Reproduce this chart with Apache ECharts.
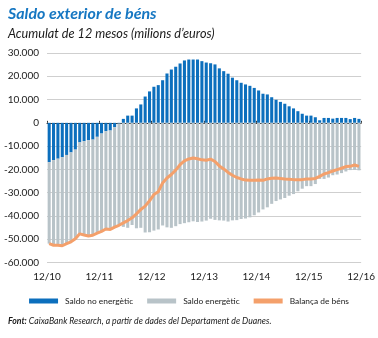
<!DOCTYPE html>
<html>
<head>
<meta charset="utf-8">
<script src="https://cdn.jsdelivr.net/npm/echarts@6/dist/echarts.min.js"></script>
<style>
  html, body { margin: 0; padding: 0; background: #ffffff; }
  #chart { width: 378px; height: 338px; }
</style>
</head>
<body>
<div id="chart"></div>
<script>
// Months Jan 2011 – Dec 2016
const months = [];
for (let y = 11; y <= 16; y++) {
  for (let m = 1; m <= 12; m++) months.push((m < 10 ? '0' + m : '' + m) + '/' + y);
}

// Year-end tick labels
const tickLabels = ['12/10', '12/11', '12/12', '12/13', '12/14', '12/15', '12/16'];

// Non-energy balance, 12-month cumulative (millions of euros)
const nonEnergy = [
  -16900, -16000, -15400, -14800, -13800, -12700, -11500, -8400, -7900, -7500, -7200, -6000,
  -4600, -3600, -3300, -1900, -300, 1700, 3100, 3100, 6200, 7900, 11300, 13500,
  15500, 16200, 18300, 21200, 22900, 24100, 25500, 26800, 27200, 27200, 27200, 26500,
  25900, 25600, 25100, 23400, 22200, 21100, 19400, 18300, 17200, 16500, 15900, 15000,
  13900, 12500, 12200, 11000, 9900, 9000, 8200, 7100, 6200, 5000, 3900, 3100,
  3100, 2400, 1100, 2100, 2100, 1800, 2100, 2100, 2100, 1600, 2100, 1700
];

// Energy balance, 12-month cumulative (millions of euros)
const energy = [
  -35000, -36600, -37200, -38000, -38100, -38400, -38300, -39300, -40300, -41100, -41100, -41400,
  -42000, -42000, -42500, -42900, -43700, -44700, -45100, -43900, -45300, -45100, -47100, -47000,
  -46300, -45800, -44100, -44900, -45100, -44400, -43500, -43100, -42700, -42300, -42600, -42400,
  -42000, -41200, -41700, -41900, -42000, -42400, -41900, -41800, -41300, -41100, -40600, -39700,
  -38500, -37200, -36300, -34800, -33600, -32900, -32300, -31300, -30600, -29400, -28300, -27200,
  -27200, -26300, -24100, -24100, -23500, -22500, -22200, -21600, -20900, -20300, -20200, -20400
];

// Goods trade balance, 12-month cumulative (millions of euros)
const balance = [
  -51900, -52600, -52600, -52800, -51900, -51100, -49800, -47700, -48200, -48600, -48300, -47400,
  -46600, -45600, -45800, -44800, -44000, -43000, -42000, -40800, -39100, -37200, -35800, -33500,
  -30800, -29600, -25800, -23700, -22200, -20300, -18000, -16300, -15500, -15100, -15400, -15900,
  -16100, -15600, -16600, -18500, -19800, -21300, -22500, -23500, -24100, -24600, -24700, -24700,
  -24600, -24700, -24100, -23800, -23700, -23900, -24100, -24200, -24400, -24400, -24400, -24100,
  -24100, -23900, -23000, -22000, -21400, -20700, -20100, -19500, -18800, -18700, -18100, -18700
];

const FONT = 'Lato, "Open Sans", sans-serif';
const BLUE = '#0c6fbd';
const GREY = '#b8c3c8';
const ORANGE = '#f4a06b';

const chart = echarts.init(document.getElementById('chart'), null, { renderer: 'canvas' });

chart.setOption({
  backgroundColor: '#ffffff',
  animation: false,
  textStyle: { fontFamily: FONT },
  title: [
    {
      text: 'Saldo exterior de béns',
      left: 8, top: 6, padding: 0,
      textStyle: { fontFamily: FONT, fontSize: 16, fontWeight: 'bold', fontStyle: 'italic', color: '#1677c2' }
    },
    {
      text: 'Acumulat de 12 mesos (milions d\u2019euros)',
      left: 8, top: 27, padding: 0,
      textStyle: { fontFamily: FONT, fontSize: 12.7, fontWeight: 'normal', fontStyle: 'italic', color: '#1a1a1a' }
    },
    {
      text: '{b|Font:} CaixaBank Research, a partir de dades del Departament de Duanes.',
      left: 8, top: 317, padding: 0,
      textStyle: {
        fontFamily: FONT, fontSize: 8.7, fontWeight: 'normal', fontStyle: 'italic', color: '#1a1a1a',
        rich: { b: { fontFamily: FONT, fontSize: 8.7, fontWeight: 'bold', fontStyle: 'italic', color: '#1a1a1a' } }
      }
    }
  ],
  legend: {
    left: 'center', top: 297, padding: 0,
    itemWidth: 29, itemHeight: 5, itemGap: 14,
    icon: 'rect',
    textStyle: { fontFamily: FONT, fontSize: 8.4, color: '#1a1a1a', padding: [0, 0, 0, 2] },
    data: ['Saldo no energètic', 'Saldo energètic', 'Balança de béns']
  },
  grid: { left: 47, right: 14, top: 53, height: 209.5, containLabel: false },
  xAxis: [
    {
      type: 'category',
      data: months,
      boundaryGap: true,
      axisLine: { onZero: true, lineStyle: { color: '#3a3a3a', width: 1 } },
      axisTick: { show: true, interval: 11, length: 2, inside: true, lineStyle: { color: '#3a3a3a' } },
      axisLabel: { show: false },
      splitLine: { show: false }
    },
    {
      type: 'value',
      min: 0, max: 72, interval: 12,
      position: 'bottom',
      axisLine: { show: false },
      axisTick: { show: false },
      splitLine: { show: false },
      axisLabel: {
        show: true, margin: 9, fontFamily: FONT, fontSize: 10, color: '#1a1a1a',
        formatter: v => tickLabels[Math.round(v / 12)]
      }
    }
  ],
  yAxis: {
    type: 'value',
    min: -60000, max: 30000, interval: 10000,
    axisLine: { show: false },
    axisTick: { show: false },
    splitLine: { show: true, lineStyle: { color: '#cfcfcf', width: 1 } },
    axisLabel: {
      margin: 8, fontFamily: FONT, fontSize: 10, color: '#1a1a1a',
      formatter: v => (v === 0 ? '0' : (v / 1000) + '.000')
    }
  },
  series: [
    {
      name: 'Saldo no energètic',
      type: 'bar', stack: 'saldo',
      xAxisIndex: 0,
      data: nonEnergy,
      barCategoryGap: '30%',
      itemStyle: { color: BLUE },
      z: 2
    },
    {
      name: 'Saldo energètic',
      type: 'bar', stack: 'saldo',
      xAxisIndex: 0,
      data: energy,
      barCategoryGap: '30%',
      itemStyle: { color: GREY },
      z: 2
    },
    {
      name: 'Balança de béns',
      type: 'line',
      xAxisIndex: 0,
      data: balance,
      symbol: 'none',
      smooth: false,
      lineStyle: { color: ORANGE, width: 3 },
      itemStyle: { color: ORANGE },
      z: 4
    }
  ]
});
</script>
</body>
</html>
